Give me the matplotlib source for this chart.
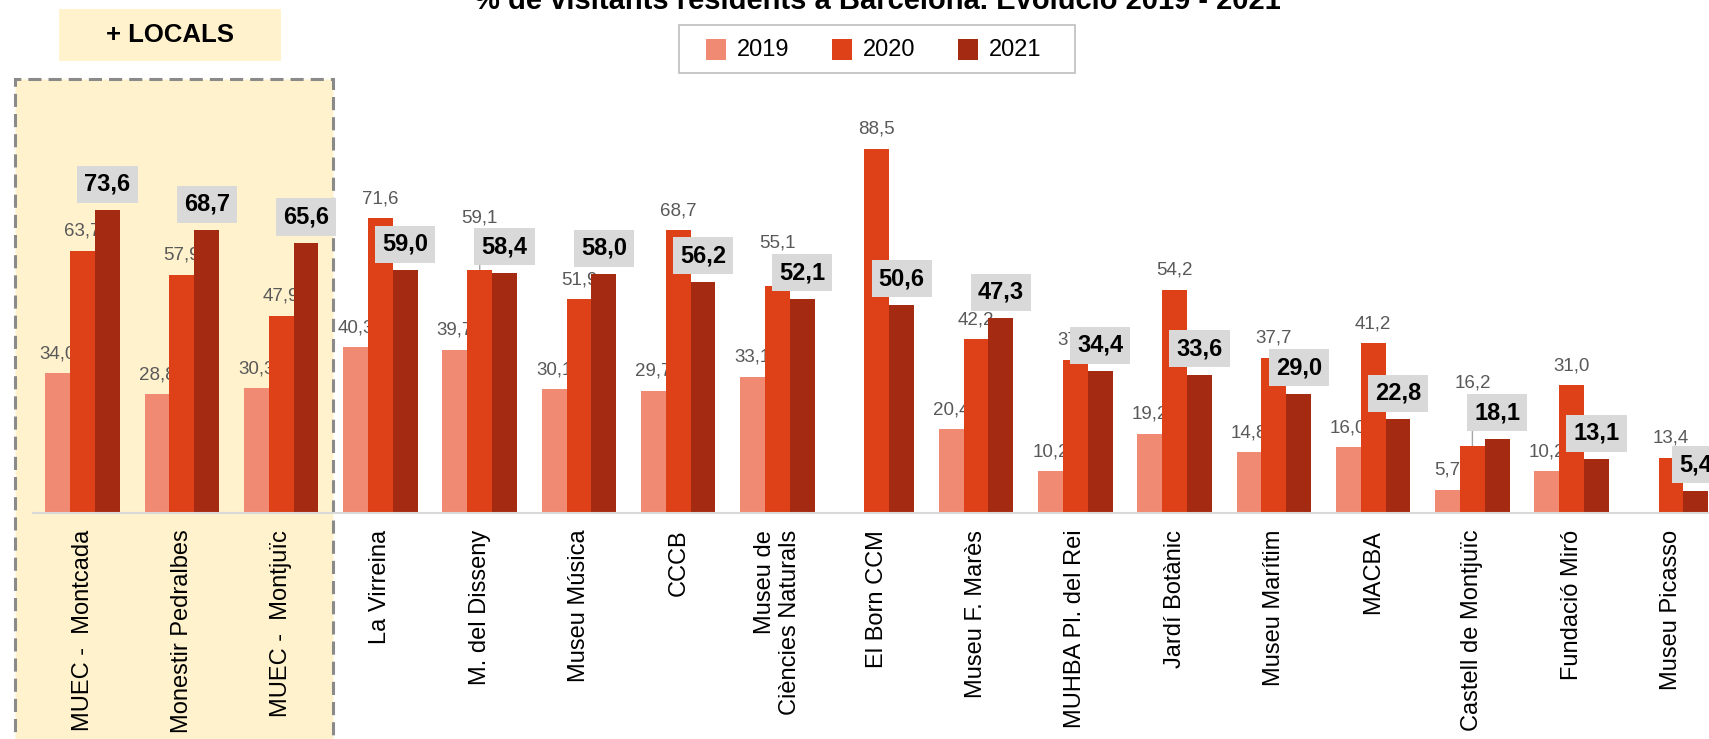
import numpy as np
import matplotlib
matplotlib.use("Agg")
import matplotlib.pyplot as plt
from matplotlib.patches import Rectangle

plt.rcParams['font.family'] = ['Liberation Sans', 'DejaVu Sans']

# ---------------- data ----------------
title = "% de visitants residents a Barcelona. Evolució 2019 - 2021"
categories = ["MUEC -  Montcada", "Monestir Pedralbes", "MUEC -  Montjuïc", "La Virreina",
              "M. del Disseny", "Museu Música", "CCCB", "Museu de\nCiències Naturals",
              "El Born CCM", "Museu F. Marès", "MUHBA Pl. del Rei", "Jardí Botànic",
              "Museu Marítim", "MACBA", "Castell de Montjuïc", "Fundació Miró", "Museu Picasso"]
series = ["2019", "2020", "2021"]
v2019 = [34.0, 28.8, 30.3, 40.3, 39.7, 30.1, 29.7, 33.1, np.nan, 20.4, 10.2, 19.2, 14.8, 16.0, 5.7, 10.2, np.nan]
v2020 = [63.7, 57.9, 47.9, 71.6, 59.1, 51.9, 68.7, 55.1, 88.5, 42.2, 37.2, 54.2, 37.7, 41.2, 16.2, 31.0, 13.4]
v2021 = [73.6, 68.7, 65.6, 59.0, 58.4, 58.0, 56.2, 52.1, 50.6, 47.3, 34.4, 33.6, 29.0, 22.8, 18.1, 13.1, 5.4]
highlight_label = "+ LOCALS"

# ---------------- style ----------------
colors = ["#F08A72", "#DE4118", "#A52A12"]
raised = {(1, 4): 32, (1, 7): 24, (1, 14): 44}   # (series, category) -> extra label lift in px

W, H = 1709, 739
fig = plt.figure(figsize=(W / 100, H / 100), dpi=100)

def fx(px):
    return px / W

def fy(py):
    return 1 - py / H

# highlighted region
fig.patches.append(Rectangle((fx(15), fy(800)), fx(333) - fx(15), fy(79) - fy(800),
                             transform=fig.transFigure, facecolor="#FFF2CC",
                             edgecolor="#8A8A8A", lw=2.2, linestyle=(0, (4.3, 2.3)),
                             zorder=-2))
fig.patches.append(Rectangle((fx(59), fy(61)), fx(281) - fx(59), fy(9) - fy(61),
                             transform=fig.transFigure, facecolor="#FFF2CC",
                             edgecolor="none", zorder=-2))
fig.text(fx(170), fy(35), highlight_label, ha="center", va="center",
         fontsize=18.5, fontweight="bold")

# title (partially cut at top, as in the reference)
fig.text(fx(877), fy(9), title, ha="center", va="baseline", fontsize=21, fontweight="bold")

# axes
px_per_unit_x = 99.27
ax = fig.add_axes([fx(33), fy(513), 17 * px_per_unit_x / W, 411.5 / H])
ax.set_xlim(-0.5, 16.5)
ax.set_ylim(0, 100)
ax.patch.set_visible(False)
for s in ["top", "right", "left"]:
    ax.spines[s].set_visible(False)
ax.spines["bottom"].set_color("#D9D9D9")
ax.spines["bottom"].set_linewidth(1.5)
ax.set_yticks([])

x = np.arange(len(categories))
width = 0.25
data = [v2019, v2020, v2021]
for k, vals in enumerate(data):
    ax.bar(x + (k - 1) * width, vals, width, color=colors[k], zorder=2,
           edgecolor="none")

def fmt(v):
    return f"{v:.1f}".replace(".", ",")

# small labels (2019, 2020)
for k in (0, 1):
    for i, v in enumerate(data[k]):
        if np.isnan(v):
            continue
        lift = raised.get((k, i), 0)
        kw = {}
        if lift:
            kw["arrowprops"] = dict(arrowstyle="-", color="#A6A6A6", lw=1,
                                    shrinkA=1, shrinkB=0, relpos=(0.5, 0))
        ax.annotate(fmt(v), (x[i] + (k - 1) * width, v),
                    xytext=(0, (15 + lift) * 0.72), textcoords="offset points",
                    ha="center", va="baseline", fontsize=13.5, color="#595959",
                    zorder=1.5, **kw)

# bold boxed labels (2021)
for i, v in enumerate(v2021):
    ax.annotate(fmt(v), (x[i] + width, v), xytext=(0, 26 * 0.72),
                textcoords="offset points", ha="center", va="center",
                fontsize=17, fontweight="bold", color="black", zorder=3,
                bbox=dict(boxstyle="square,pad=0.3", fc="#D9D9D9", ec="none"))

ax.set_xticks(x, categories, rotation=90, fontsize=17)
ax.tick_params(axis="x", length=0, pad=12)
for lab in ax.get_xticklabels():
    lab.set_multialignment("right")

# legend (drawn as figure artists)
fig.patches.append(Rectangle((fx(679), fy(73)), fx(1075) - fx(679), fy(25) - fy(73),
                             transform=fig.transFigure, facecolor="white",
                             edgecolor="#BFBFBF", lw=1.2, zorder=1))
for k, name in enumerate(series):
    x0 = 706 + k * 126
    fig.patches.append(Rectangle((fx(x0), fy(60)), fx(20), fy(39) - fy(60),
                                 transform=fig.transFigure, facecolor=colors[k],
                                 edgecolor="none", zorder=2))
    fig.text(fx(x0 + 31), fy(50), name, ha="left", va="center", fontsize=17, zorder=2)

fig.savefig("out.png", dpi=100)
